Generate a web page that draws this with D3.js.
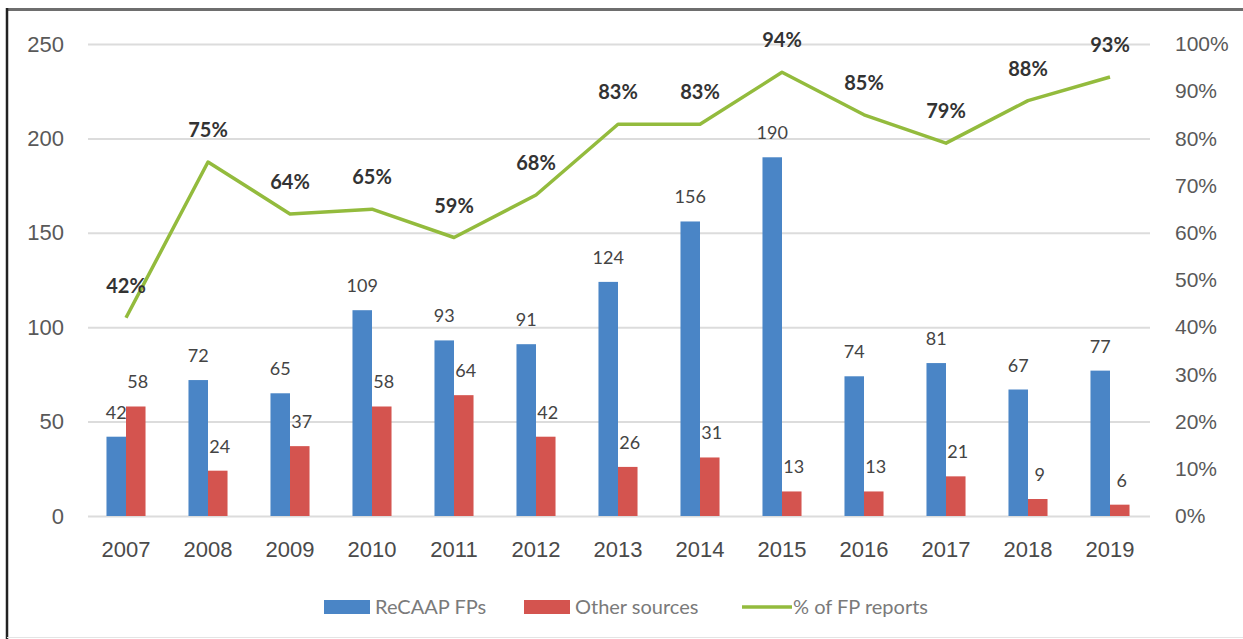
<!DOCTYPE html>
<html>
<head>
<meta charset="utf-8">
<script src="https://cdn.jsdelivr.net/npm/d3@7"></script>
<style>
  html, body { margin: 0; padding: 0; background: #fff; }
  svg { display: block; font-family: Lato, "Open Sans", sans-serif; }
</style>
</head>
<body>
<script>
const years = ['2007', '2008', '2009', '2010', '2011', '2012', '2013', '2014', '2015', '2016', '2017', '2018', '2019'];
const recaapFPs = [42, 72, 65, 109, 93, 91, 124, 156, 190, 74, 81, 67, 77];
const otherSources = [58, 24, 37, 58, 64, 42, 26, 31, 13, 13, 21, 9, 6];
const pctFP = [42, 75, 64, 65, 59, 68, 83, 83, 94, 85, 79, 88, 93];
const leftTicks = [0, 50, 100, 150, 200, 250];
const rightTicks = [0, 10, 20, 30, 40, 50, 60, 70, 80, 90, 100];
const seriesNames = ['ReCAAP FPs', 'Other sources', '% of FP reports'];

const colors = { blue: '#4a85c6', red: '#d4544f', green: '#93bb3d' },
  width = 1243,
  height = 639,
  plot = { left: 85, right: 1151, top: 44, bottom: 516 };

const svg = d3.select('body')
  .append('svg')
  .attr('width', width)
  .attr('height', height);

// frame
svg.append('line')
  .attr('x1', 6).attr('x2', width).attr('y1', 9.5).attr('y2', 9.5)
  .attr('stroke', '#6e6e6e').attr('stroke-width', 3);
svg.append('line')
  .attr('x1', 7).attr('x2', 7).attr('y1', 8).attr('y2', height)
  .attr('stroke', '#222').attr('stroke-width', 2.5);
svg.append('line')
  .attr('x1', 7).attr('x2', width).attr('y1', 637.5).attr('y2', 637.5)
  .attr('stroke', '#e4e4e4').attr('stroke-width', 1);

const x = d3.scaleBand()
  .domain(years)
  .range([plot.left, plot.right]);

const inner = d3.scaleBand()
  .domain(['recaap', 'other'])
  .range([0, x.bandwidth()])
  .paddingOuter(1.1);

const y = d3.scaleLinear()
  .domain([0, 250])
  .range([plot.bottom, plot.top]);

const yPct = d3.scaleLinear()
  .domain([0, 100])
  .range([plot.bottom, plot.top]);

// gridlines
svg.append('g')
  .selectAll('line')
  .data(leftTicks)
  .enter().append('line')
  .attr('x1', 88)
  .attr('x2', 1150)
  .attr('y1', d => y(d) + 0.5)
  .attr('y2', d => y(d) + 0.5)
  .attr('stroke', '#dcdcdc')
  .attr('stroke-width', 2);

// left axis
const leftAxis = svg.append('g')
  .attr('transform', 'translate(64,0)')
  .call(d3.axisLeft(y).tickValues(leftTicks).tickSize(0).tickPadding(0));
leftAxis.select('.domain').remove();
leftAxis.selectAll('text')
  .attr('fill', '#595959')
  .style('font-size', '22px');

// right axis
const rightAxis = svg.append('g')
  .attr('transform', 'translate(1175,0)')
  .call(d3.axisRight(yPct).tickValues(rightTicks).tickSize(0).tickPadding(0).tickFormat(d => d + '%'));
rightAxis.select('.domain').remove();
rightAxis.selectAll('text')
  .attr('fill', '#595959')
  .style('font-size', '21px');

// bottom axis
const bottomAxis = svg.append('g')
  .attr('transform', 'translate(0,541)')
  .call(d3.axisBottom(x).tickSize(0).tickPadding(0));
bottomAxis.select('.domain').remove();
bottomAxis.selectAll('text')
  .attr('fill', '#4a4a4a')
  .style('font-size', '22px');

const groups = svg.append('g')
  .selectAll('g')
  .data(years.map((yr, i) => ({ yr, recaap: recaapFPs[i], other: otherSources[i], pct: pctFP[i] })))
  .enter().append('g')
  .attr('transform', d => `translate(${x(d.yr)},0)`);

groups.append('rect')
  .attr('x', inner('recaap'))
  .attr('width', inner.bandwidth())
  .attr('y', d => y(d.recaap))
  .attr('height', d => y(0) - y(d.recaap))
  .attr('fill', colors.blue);

groups.append('rect')
  .attr('x', inner('other'))
  .attr('width', inner.bandwidth())
  .attr('y', d => y(d.other))
  .attr('height', d => y(0) - y(d.other))
  .attr('fill', colors.red);

groups.append('text')
  .attr('x', inner('recaap') + inner.bandwidth() / 2)
  .attr('y', d => y(d.recaap) - 18)
  .attr('text-anchor', 'middle')
  .attr('fill', '#444')
  .style('font-size', '18px')
  .text(d => d.recaap);

groups.append('text')
  .attr('x', inner('other') + inner.bandwidth() / 2 + 2)
  .attr('y', d => y(d.other) - 18)
  .attr('text-anchor', 'middle')
  .attr('fill', '#444')
  .style('font-size', '18px')
  .text(d => d.other);

// percentage line
const line = d3.line()
  .x((d, i) => x(years[i]) + x.bandwidth() / 2)
  .y(d => yPct(d));

svg.append('path')
  .datum(pctFP)
  .attr('d', line)
  .attr('fill', 'none')
  .attr('stroke', colors.green)
  .attr('stroke-width', 3.5)
  .attr('stroke-linejoin', 'round');

svg.append('g')
  .selectAll('text')
  .data(pctFP)
  .enter().append('text')
  .attr('x', (d, i) => x(years[i]) + x.bandwidth() / 2)
  .attr('y', d => yPct(d) - 25)
  .attr('text-anchor', 'middle')
  .attr('fill', '#333')
  .style('font-size', '20px')
  .style('font-weight', 'bold')
  .text(d => d + '%');

// legend
const legend = svg.append('g')
  .attr('transform', 'translate(0,607)');

const legendItems = [
  { name: seriesNames[0], color: colors.blue, type: 'rect', x: 324 },
  { name: seriesNames[1], color: colors.red, type: 'rect', x: 524 },
  { name: seriesNames[2], color: colors.green, type: 'line', x: 742 }
];

legendItems.forEach(item => {
  if (item.type === 'rect') {
    legend.append('rect')
      .attr('x', item.x).attr('y', -7)
      .attr('width', 46).attr('height', 14)
      .attr('fill', item.color);
  } else {
    legend.append('line')
      .attr('x1', item.x).attr('x2', item.x + 50)
      .attr('y1', 0).attr('y2', 0)
      .attr('stroke', item.color).attr('stroke-width', 3.5);
  }
  legend.append('text')
    .attr('x', item.x + (item.type === 'rect' ? 51 : 51))
    .attr('y', 0)
    .attr('dy', '0.35em')
    .attr('fill', '#7a7a7a')
    .style('font-size', '20px')
    .text(item.name);
});
</script>
</body>
</html>
